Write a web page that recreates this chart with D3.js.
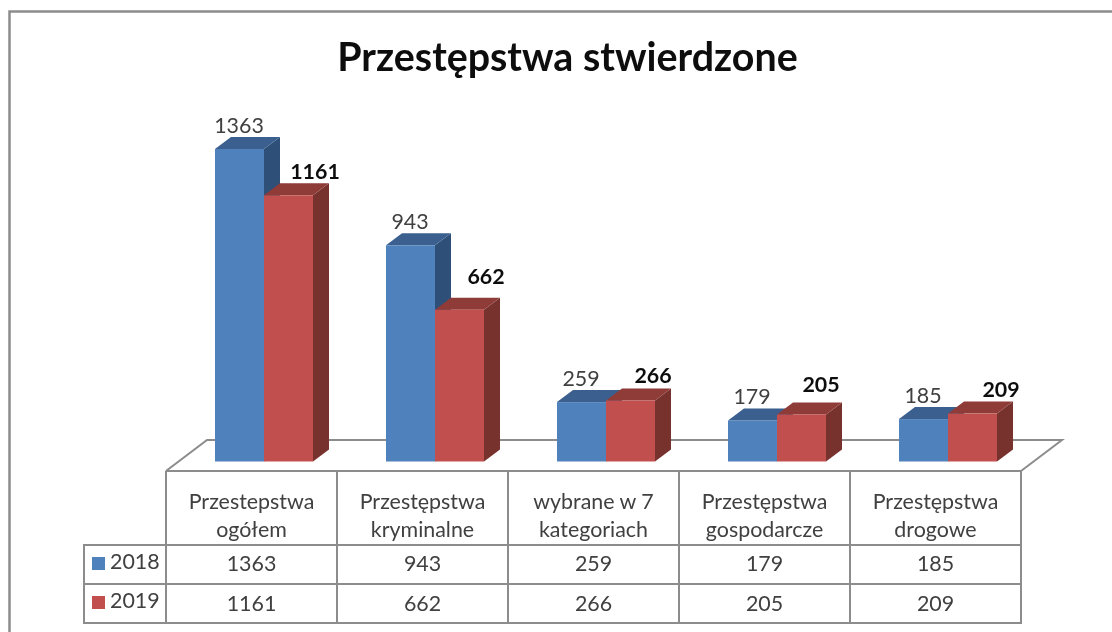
<!DOCTYPE html>
<html><head><meta charset="utf-8">
<script src="https://cdn.jsdelivr.net/npm/d3@7/dist/d3.min.js"></script>
<style>html,body{margin:0;padding:0;background:#fff}svg{display:block}</style></head>
<body><svg id="c" width="1112" height="632"></svg>
<script>
const title = "Przestępstwa stwierdzone";
const categories = ["Przestepstwa\nogółem","Przestępstwa\nkryminalne","wybrane w 7\nkategoriach","Przestępstwa\ngospodarcze","Przestępstwa\ndrogowe"];
const seriesNames = ["2018","2019"];
const values2018 = [1363,943,259,179,185];
const values2019 = [1161,662,266,205,209];
// hand-placed 2019 labels in the original: offset from bar left, gap above front top
const labelDx2019 = [51,51,47,44,53];
const labelGap2019 = [16,26,18,22,17];
const colors = {front:["#4f81bd","#c0504d"],top:["#3a5f8e","#8f3a38"],side:["#2f5078","#78302e"]};
const dx=16,dy=12,gray="#8c8c8c",txt="#404040",font="Lato, Carlito, sans-serif",fs=21.4;
const svg=d3.select("#c");
svg.append("defs").append("filter").attr("id","soft").append("feGaussianBlur").attr("stdDeviation",0.6);
const g=svg.append("g").attr("filter","url(#soft)");
const x=d3.scaleBand().domain(d3.range(categories.length)).range([166,1021]);
const y=d3.scaleLinear().domain([0,1363]).range([461.5,149]);
g.append("path").attr("d","M9.5,640V11.5H1130").attr("fill","none").attr("stroke",gray).attr("stroke-width",2.5);
g.append("text").attr("x",567.5).attr("y",71).attr("text-anchor","middle").attr("font-family",font).attr("font-weight",700).attr("font-size",39.4).attr("fill","#111").text(title);
g.append("path").attr("d","M166,471L207,440H1062L1021,471").attr("fill","none").attr("stroke",gray).attr("stroke-width",2);
const series=[values2018,values2019];
const bw=49, offs=[-49+12.5,12.5];
categories.forEach((c,i)=>{
  const cx=x(i)+x.bandwidth()/2;
  seriesNames.forEach((s,k)=>{
    const v=series[k][i],x0=cx+offs[k],yt=y(v),yb=y(0);
    const b=g.append("g");
    b.append("path").attr("d",`M${x0+bw},${yt}l${dx},${-dy}V${yb-dy}L${x0+bw},${yb}Z`).attr("fill",colors.side[k]);
    b.append("path").attr("d",`M${x0},${yt}l${dx},${-dy}h${bw}l${-dx},${dy}Z`).attr("fill",colors.top[k]);
    b.append("rect").attr("x",x0).attr("y",yt).attr("width",bw).attr("height",yb-yt).attr("fill",colors.front[k]);
  });
});
categories.forEach((c,i)=>{
  const cx=x(i)+x.bandwidth()/2;
  seriesNames.forEach((s,k)=>{
    const v=series[k][i],x0=cx+offs[k],yt=y(v);
    g.append("text").attr("x",x0+(k?labelDx2019[i]:24)).attr("y",yt-(k?labelGap2019[i]:16.5))
      .attr("text-anchor","middle").attr("font-family",font).attr("font-size",fs)
      .attr("font-weight",k?700:400).attr("fill",k?"#111":txt).text(v);
  });
});
const rows=[471,545,584,623], left=84;
const t=g.append("g").attr("stroke",gray).attr("stroke-width",2).attr("fill","none");
rows.forEach((r,i)=>t.append("line").attr("x1",i?left-1:166).attr("x2",1022).attr("y1",r).attr("y2",r));
t.append("line").attr("x1",left).attr("x2",left).attr("y1",545).attr("y2",623);
d3.range(categories.length+1).forEach(i=>{const px=i<categories.length?x(i):1021;t.append("line").attr("x1",px).attr("x2",px).attr("y1",471).attr("y2",623);});
categories.forEach((c,i)=>{
  const cx=x(i)+x.bandwidth()/2;
  c.split("\n").forEach((l,j)=>g.append("text").attr("x",cx).attr("y",509+j*28).attr("text-anchor","middle").attr("font-family",font).attr("font-size",fs).attr("fill",txt).text(l));
  series.forEach((sv,k)=>g.append("text").attr("x",cx).attr("y",[571,611][k]).attr("text-anchor","middle").attr("font-family",font).attr("font-size",fs).attr("fill",txt).text(sv[i]));
});
seriesNames.forEach((s,k)=>{
  const cy=[563,602][k];
  g.append("rect").attr("x",92).attr("y",cy-6).attr("width",13).attr("height",13).attr("fill",colors.front[k]);
  g.append("text").attr("x",110).attr("y",cy+6).attr("font-family",font).attr("font-size",fs).attr("fill",txt).text(s);
});
</script></body></html>
